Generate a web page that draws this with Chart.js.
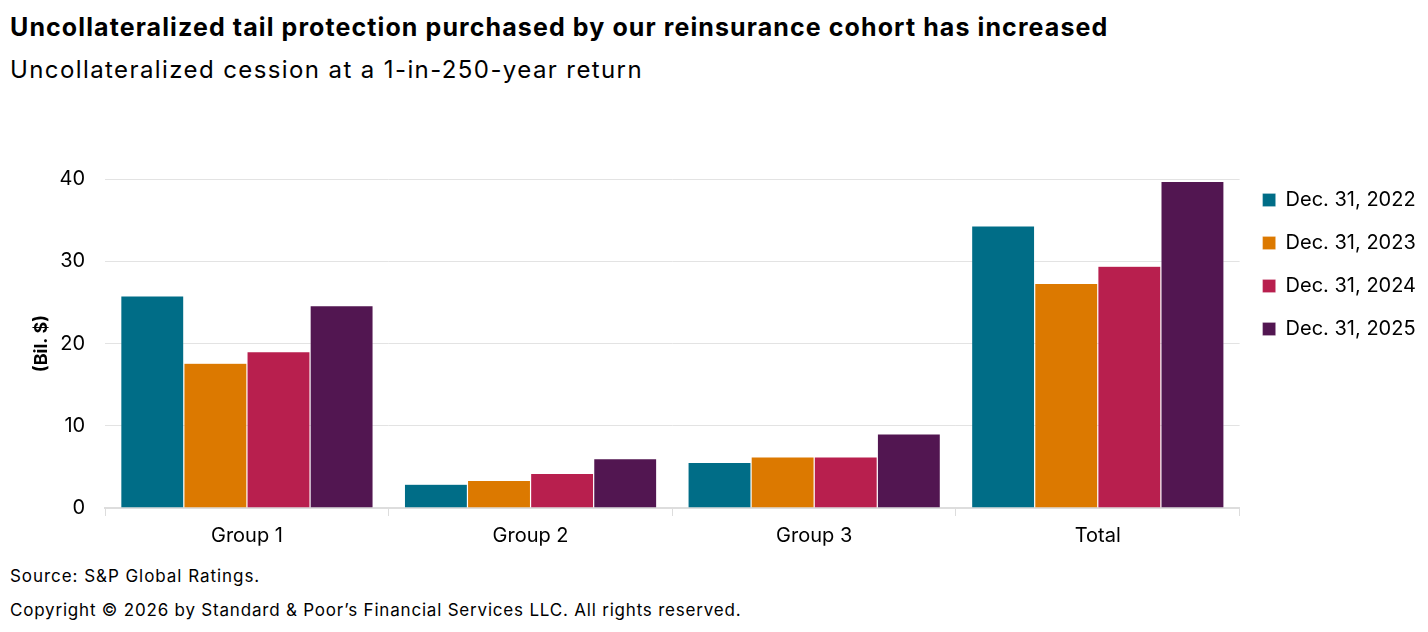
<!DOCTYPE html>
<html>
<head>
<meta charset="utf-8">
<script src="https://cdn.jsdelivr.net/npm/chart.js@4/dist/chart.umd.min.js"></script>
<style>
  body { margin: 0; background: #fff; font-family: Inter, "Open Sans", sans-serif; color: #000; }
  #wrap { position: relative; width: 1428px; height: 632px; overflow: hidden; }
  .title { position: absolute; left: 10px; top: 12px; font-size: 25px; font-weight: 700; letter-spacing: 1.1px; }
  .subtitle { position: absolute; left: 10px; top: 55px; font-size: 24px; font-weight: 400; letter-spacing: 1.4px; }
  .source { position: absolute; left: 10px; top: 566px; font-size: 17px; letter-spacing: 0.95px; }
  .copy { position: absolute; left: 10px; top: 600px; font-size: 17px; letter-spacing: 0.8px; }
  #chartbox { position: absolute; left: 0; top: 147px; width: 1428px; height: 409px; }
</style>
</head>
<body>
<div id="wrap">
  <div class="title">Uncollateralized tail protection purchased by our reinsurance cohort has increased</div>
  <div class="subtitle">Uncollateralized cession at a 1-in-250-year return</div>
  <div id="chartbox"><canvas id="chart"></canvas></div>
  <div class="source">Source: S&amp;P Global Ratings.</div>
  <div class="copy">Copyright © 2026 by Standard &amp; Poor’s Financial Services LLC. All rights reserved.</div>
</div>
<script>
// categories and series
const groups = ['Group 1', 'Group 2', 'Group 3', 'Total'];
const dec2022 = [25.8, 2.9, 5.55, 34.3];
const dec2023 = [17.6, 3.35, 6.2, 27.3];
const dec2024 = [19.0, 4.2, 6.2, 29.4];
const dec2025 = [24.6, 6.0, 9.0, 39.7];
const yTicks = [0, 10, 20, 30, 40];

const colors = ['#006d87', '#dc7900', '#b81f4e', '#521651'];

function ds(label, values, color) {
    return {
        label: label,
        data: values,
        backgroundColor: color,
        borderColor: 'rgba(255,255,255,0.35)',
        borderWidth: 0.6,
        borderSkipped: 'bottom',
        barPercentage: 1.0,
        categoryPercentage: 0.89
    };
}

const data = {
    labels: groups,
    datasets: [
        ds('Dec. 31, 2022', dec2022, colors[0]),
        ds('Dec. 31, 2023', dec2023, colors[1]),
        ds('Dec. 31, 2024', dec2024, colors[2]),
        ds('Dec. 31, 2025', dec2025, colors[3])
    ]
};

const config = {
    type: 'bar',
    data: data,
    options: {
        responsive: true,
        maintainAspectRatio: false,
        animation: false,
        layout: { padding: { left: 8, right: 2, top: 20, bottom: 0 } },
        plugins: {
            legend: {
                position: 'right',
                align: 'start',
                labels: {
                    boxWidth: 13,
                    boxHeight: 13,
                    padding: 23,
                    color: '#000',
                    font: { family: 'Inter', size: 20 }
                }
            },
            tooltip: { enabled: false }
        },
        scales: {
            x: {
                grid: {
                    offset: true,
                    drawOnChartArea: false,
                    color: '#dddddd',
                    tickLength: 8
                },
                border: { color: '#dddddd', width: 2 },
                ticks: { color: '#000', font: { family: 'Inter', size: 20 }, padding: 8 }
            },
            y: {
                min: 0,
                max: 40,
                afterBuildTicks: function (axis) {
                    axis.ticks = yTicks.map(function (v) { return { value: v }; });
                },
                grid: { color: '#e3e3e3', drawTicks: false },
                border: { display: false },
                ticks: { color: '#000', font: { family: 'Inter', size: 20 }, padding: 20 },
                title: {
                    display: true,
                    text: '(Bil. $)',
                    color: '#000',
                    font: { family: 'Inter', size: 18, weight: 'bold' },
                    padding: { top: 23, bottom: -13 }
                }
            }
        }
    }
};

const myChart = new Chart(document.getElementById('chart'), config);
</script>
</body>
</html>
